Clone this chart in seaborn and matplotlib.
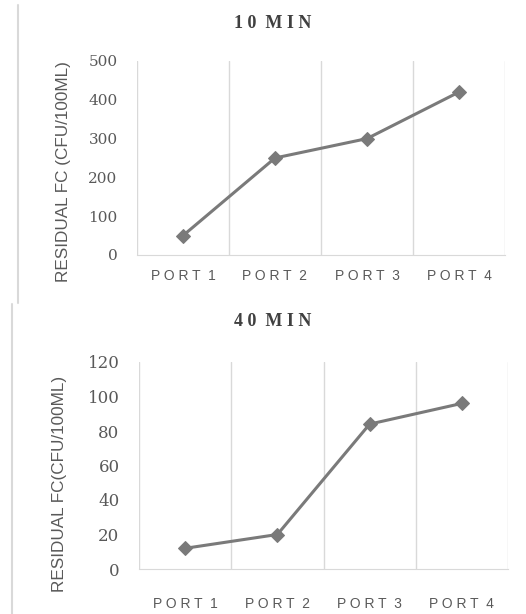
import matplotlib
matplotlib.use("Agg")
import matplotlib.pyplot as plt
import seaborn as sns
import pandas as pd

sns.set_style("white")

# Data
ports = ["PORT 1", "PORT 2", "PORT 3", "PORT 4"]
fc_10min = [50, 250, 300, 420]
fc_40min = [12, 20, 84, 96]
titles = ["10 MIN", "40 MIN"]
yticks_10 = [0, 100, 200, 300, 400, 500]
yticks_40 = [0, 20, 40, 60, 80, 100, 120]
ylabels = ["RESIDUAL FC (CFU/100ML)", "RESIDUAL FC(CFU/100ML)"]

line_col = "#7a7a7a"
grid_col = "#d9d9d9"
text_col = "#595959"


def spaced(s):
    # imitate the wide letter spacing of the source
    return "  ".join(" ".join(w) for w in s.split())


fig = plt.figure(figsize=(5.26, 6.14), dpi=100)

# left border lines (as in the source picture)
fig.add_artist(plt.Line2D([17.5 / 526, 17.5 / 526], [1 - 5 / 614, 1 - 303 / 614],
                          color="#d9d9d9", lw=1.5))
fig.add_artist(plt.Line2D([11.5 / 526, 11.5 / 526], [1 - 304 / 614, 0],
                          color="#d9d9d9", lw=1.5))

panels = [
    dict(rect=[137 / 526, 1 - 255 / 614, 368 / 526, 194 / 614], vals=fc_10min,
         ticks=yticks_10, title=titles[0], ty=1 - 23 / 614, ylab=ylabels[0],
         tsize=11, xpad=10, lab_xy=(-0.179, 0.43)),
    dict(rect=[139 / 526, 1 - 569 / 614, 369 / 526, 207 / 614], vals=fc_40min,
         ticks=yticks_40, title=titles[1], ty=1 - 322 / 614, ylab=ylabels[1],
         tsize=12, xpad=20, lab_xy=(-0.195, 0.41)),
]

for p in panels:
    ax = fig.add_axes(p["rect"])
    df = pd.DataFrame({"port": list(range(len(ports))), "fc": p["vals"]})
    sns.lineplot(data=df, x="port", y="fc", ax=ax, color=line_col, lw=2.2,
                 marker="D", markersize=7, markeredgecolor=line_col)
    ax.set_xlim(-0.5, len(ports) - 0.5)
    ax.set_ylim(p["ticks"][0], p["ticks"][-1])
    ax.set_yticks(p["ticks"])
    ax.set_yticklabels([str(t) for t in p["ticks"]], family="DejaVu Serif",
                       fontsize=p["tsize"], color=text_col)
    ax.set_xticks(range(len(ports)))
    ax.set_xticklabels([spaced(s) for s in ports], family="Liberation Sans",
                       fontsize=10, color=text_col)
    ax.set_xticks([i + 0.5 for i in range(-1, len(ports))], minor=True)
    ax.grid(False)
    ax.grid(True, which="minor", axis="x", color=grid_col, lw=1)
    ax.tick_params(axis="x", which="both", length=0, pad=p["xpad"])
    ax.tick_params(axis="y", length=0, pad=14)
    for s in ["left", "top", "right"]:
        ax.spines[s].set_visible(False)
    ax.spines["bottom"].set_color(grid_col)
    ax.set_xlabel("")
    ax.set_ylabel(p["ylab"], family="Liberation Sans", fontsize=12.3,
                  color=text_col)
    ax.yaxis.set_label_coords(*p["lab_xy"])
    fig.text(0.519, p["ty"], spaced(p["title"]), family="Liberation Serif",
             fontweight="bold", fontsize=13, color="#404040", ha="center", va="center")

fig.savefig("out.png", dpi=100)
